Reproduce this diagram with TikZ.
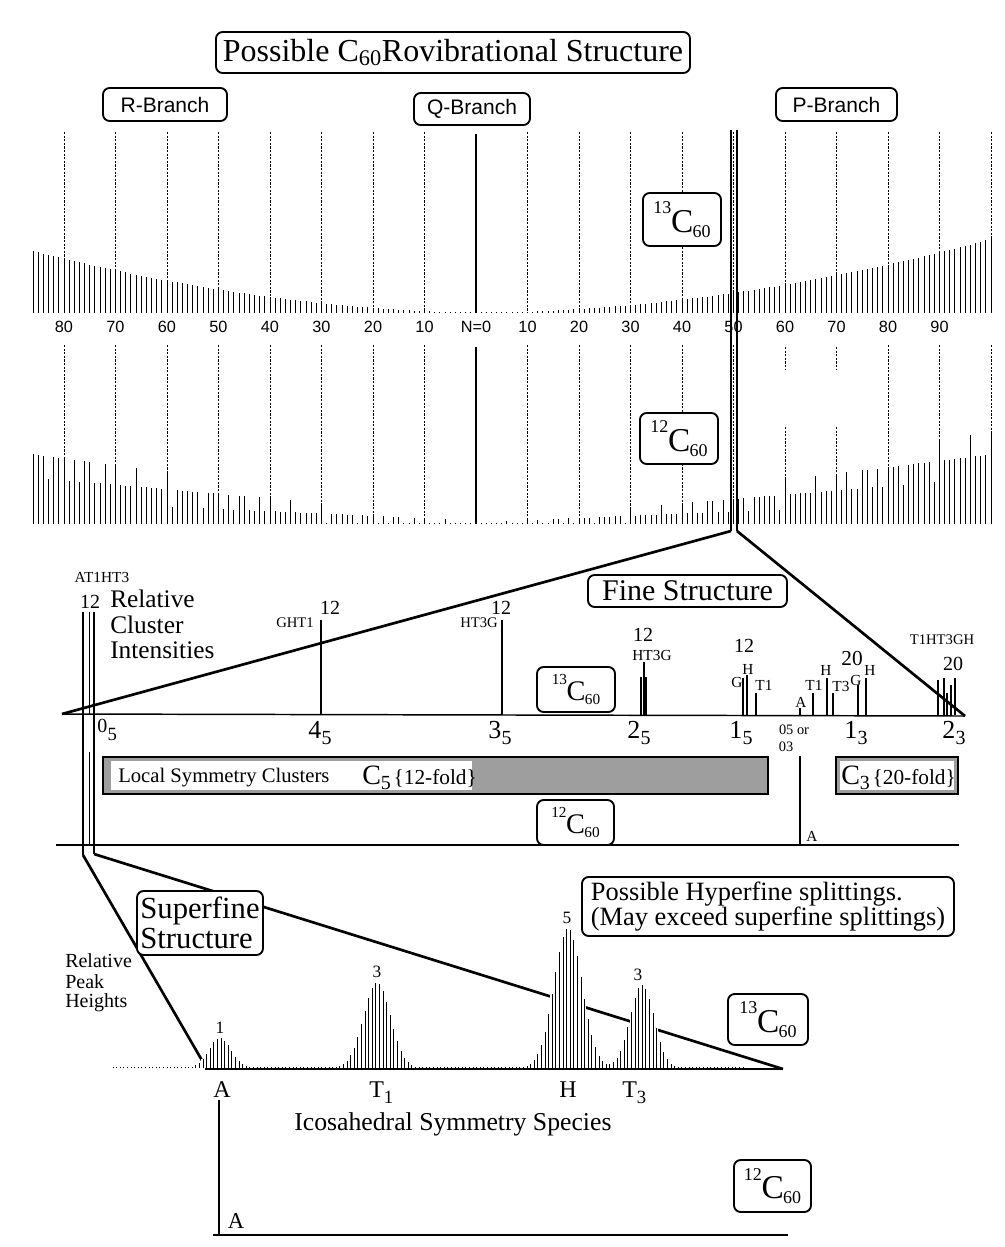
\documentclass[tikz,border=0pt]{standalone}
\usepackage{fontspec}
\setmainfont{Liberation Serif}
\newfontfamily\hsans{Liberation Sans}
\newcommand\fs[1]{\fontsize{#1}{#1}\selectfont}
\newcommand\isolab[1]{{\fs{13.5pt}\raisebox{14pt}{#1}}\kern-0.3pt{\fs{25pt}C}\kern-0.6pt{\fs{13.5pt}\raisebox{-3.5pt}{60}}}
\newcommand\axlab[2]{#1\kern0.3pt\raisebox{-5pt}{\fs{15pt}#2}}
\begin{document}
\begin{tikzpicture}[x=0.75pt,y=-0.75pt,
  rbox/.style={draw,line width=1.4pt,rounded corners=5pt,fill=white,inner sep=0pt},
  dsh/.style={line width=0.55pt,dash pattern=on 1.6pt off 1.1pt},
  spec/.style={line width=0.75pt},
  dbl/.style={line width=1.7pt},
  tri/.style={line width=2pt},
  fl/.style={line width=0.9pt},
  lbl/.style={inner sep=0pt},
  num/.style={inner sep=0pt,font=\hsans\fs{12.2pt}},
  sm/.style={inner sep=0pt,font=\fs{11.5pt}},
]
\fill[white] (0,0) rectangle (1005,1247);
\useasboundingbox (0,0) rectangle (1005,1247);

% ---------------- top: titles
\node[rbox,minimum width=355.5pt,minimum height=30.75pt,font=\fs{24pt}] (title) at (453,52.5) {Possible C\textsubscript{60}Rovibrational Structure};
\node[rbox,minimum width=93pt,minimum height=24.75pt,font=\hsans\fs{15.75pt}] (rb) at (165,104.5) {R-Branch};
\node[rbox,minimum width=87pt,minimum height=24pt,font=\hsans\fs{15.75pt}] (qb) at (472,109) {Q-Branch};
\node[rbox,minimum width=90.75pt,minimum height=24.75pt,font=\hsans\fs{15.75pt}] (pb) at (836.5,104.5) {P-Branch};

% ---------------- 13C60 rovibrational spectrum
\foreach \k in {1,...,8} \draw[dsh] (476-51.5*\k,132) -- (476-51.5*\k,313);
\foreach \k in {1,...,10} \draw[dsh] (476+51.5*\k,132) -- (476+51.5*\k,313);
\draw[line width=0.9pt] (476,134) -- (476,313);
\foreach \n in {1,...,86}{
  \pgfmathsetmacro\h{max(1,0.007*\n*\n+0.12*\n)}
  \draw[spec] (476-5.15*\n,313) -- ++(0,-\h);
}
\foreach \n in {1,...,100}{
  \pgfmathsetmacro\h{max(1,0.0068*\n*\n+0.06*\n)}
  \draw[spec] (476+5.15*\n,313) -- ++(0,-\h);
}
\node[rbox,minimum width=58.5pt,minimum height=39.75pt] (c13a) at (682,219.5) {\isolab{13}};

% axis numbers
\foreach \k in {1,...,8}{
  \pgfmathtruncatemacro\v{10*\k}
  \node[num] (rl\k) at (476-51.5*\k,327) {\v};
}
\node[num] (n0) at (476,327) {N=0};
\foreach \k in {1,...,9}{
  \pgfmathtruncatemacro\v{10*\k}
  \node[num] (pl\k) at (476+51.5*\k,327) {\v};
}

% ---------------- 12C60 rovibrational spectrum
\foreach \k in {1,...,8} \draw[dsh] (476-51.5*\k,345) -- (476-51.5*\k,524);
\foreach \k in {1,2,3,4,5,8,9,10} \draw[dsh] (476+51.5*\k,345) -- (476+51.5*\k,524);
\foreach \k in {6,7}{
  \draw[dsh] (476+51.5*\k,347) -- (476+51.5*\k,369);
  \draw[dsh] (476+51.5*\k,427) -- (476+51.5*\k,524);
}
\draw[line width=0.9pt] (476,347) -- (476,524);
\foreach \n in {1,...,100}{
  \pgfmathsetmacro\aa{mod((\n+0.5)*120,360)}
  \pgfmathsetmacro\ab{mod((\n+0.5)*72,360)}
  \pgfmathsetmacro\ac{mod((\n+0.5)*144,360)}
  \pgfmathsetmacro\sg{ifthenelse(mod(\n,2)==0,1,-1)}
  \pgfmathsetmacro\na{round((2*\n+1+15*\sg+20*sin(\aa)/sin(60)+12*sin(\ab)/sin(36)+12*sin(\ac)/sin(72))/60)}
  \pgfmathsetmacro\fac{\na*(60/(2*\n+1))}
  \pgfmathsetmacro\hp{max(1,1.05*(0.0068*\n*\n+0.06*\n)*\fac)}
  \draw[spec] (476+5.15*\n,524) -- ++(0,-\hp);
  \ifnum\n<87
    \pgfmathsetmacro\hr{max(1,1.08*(0.007*\n*\n+0.12*\n)*\fac)}
    \draw[spec] (476-5.15*\n,524) -- ++(0,-\hr);
  \fi
}
\node[rbox,minimum width=58.5pt,minimum height=38.25pt] (c12a) at (679,438.5) {\isolab{12}};

% ---------------- zoom lines into fine structure
\coordinate (tL) at (731,130);
\coordinate (tR) at (737,130);
\coordinate (apL) at (731,531);
\coordinate (apR) at (737,531);
\coordinate (fL) at (62,714);
\coordinate (fR) at (965,716);
\draw[dbl] (tL) -- (apL);
\draw[dbl] (tR) -- (apR);
\draw[tri] (apL) -- (fL);
\draw[tri] (apR) -- (fR);

% ---------------- fine structure
\draw[line width=1.1pt] (fL) -- (fR);
\foreach \x/\t in {321/620,502/620,641/677,644/662,646/677,743/678,747/675,756/693,800/708,813/693,827/678,833/693,858/685,866/678,938/680,944/678,947/693,951/685,955/678}
  \draw[fl] (\x,715) -- (\x,\t);
\node[rbox,minimum width=149.25pt,minimum height=24pt,font=\fs{22.5pt}] (fine) at (687.5,591) {Fine Structure};
\node[rbox,minimum width=58.5pt,minimum height=33.75pt] (c13b) at (576,689.5) {\scalebox{0.85}{\isolab{13}}};

\node[lbl,font=\fs{11.5pt}] (at1) at (102,577) {AT1HT3};
\node[lbl,font=\fs{15pt}] (n12a) at (90,602) {12};
\node[lbl,font=\fs{19pt},anchor=base west] (rel1) at (110,607) {Relative};
\node[lbl,font=\fs{19pt},anchor=base west] (rel2) at (110,633) {Cluster};
\node[lbl,font=\fs{19pt},anchor=base west] (rel3) at (110,658) {Intensities};

\node[lbl,font=\fs{15pt}] (n12b) at (330,608) {12};
\node[lbl,font=\fs{11pt}] (ght) at (295,623) {GHT1};
\node[lbl,font=\fs{15pt}] (n12c) at (501,608) {12};
\node[lbl,font=\fs{11pt}] (ht3a) at (479,623) {HT3G};
\node[lbl,font=\fs{15pt}] (n12d) at (643,635) {12};
\node[lbl,font=\fs{11.5pt}] (ht3b) at (652,655) {HT3G};
\node[lbl,font=\fs{15pt}] (n12e) at (744,646) {12};
\node[sm] (g1) at (737,682) {G};
\node[sm] (h1) at (748,669) {H};
\node[sm] (t1a) at (764,685) {T1};
\node[sm] (a1) at (801,702) {A};
\node[sm] (t1b) at (814,685) {T1};
\node[sm] (h2) at (826,670) {H};
\node[sm] (t3a) at (841,686) {T3};
\node[lbl,font=\fs{16pt}] (n20a) at (852,658) {20};
\node[sm] (g2) at (856,680) {G};
\node[sm] (h3) at (870,670) {H};
\node[lbl,font=\fs{11pt}] (t1h) at (942,640) {T1HT3GH};
\node[lbl,font=\fs{15pt}] (n20b) at (953,664) {20};

\node[lbl,font=\fs{15pt},anchor=base west] (x05) at (97,732) {0\kern0.3pt\raisebox{-6pt}{\fs{14pt}5}};
\node[lbl,font=\fs{19.5pt},anchor=base west] (x45) at (308,738) {\axlab{4}{5}};
\node[lbl,font=\fs{19.5pt},anchor=base west] (x35) at (488,738) {\axlab{3}{5}};
\node[lbl,font=\fs{19.5pt},anchor=base west] (x25) at (627,738) {\axlab{2}{5}};
\node[lbl,font=\fs{19.5pt},anchor=base west] (x15) at (729,738) {\axlab{1}{5}};
\node[lbl,font=\fs{19.5pt},anchor=base west] (x13) at (844,738) {\axlab{1}{3}};
\node[lbl,font=\fs{19.5pt},anchor=base west] (x23) at (942,738) {\axlab{2}{3}};
\node[lbl,font=\fs{10.8pt}] (or1) at (794,730) {05 or};
\node[lbl,font=\fs{10.8pt}] (or2) at (786,747) {03};

% ---------------- local symmetry clusters / 12C60 middle
\draw[line width=0.8pt,fill=black!38] (103,757) rectangle (768,794);
\fill[white] (111,761) rectangle (472,790);
\node[lbl,font=\fs{15.5pt},anchor=base west] (lsc) at (118,782) {Local Symmetry Clusters};
\node[lbl,anchor=base west] (c5) at (362,784) {{\fs{21pt}C}\raisebox{-4pt}{\fs{15pt}5}\kern2pt{\fs{16pt}\{12-fold\}}};
\draw[line width=0.8pt,fill=black!38] (836,757) rectangle (958,794);
\fill[white] (840,761) rectangle (954,790);
\node[lbl,anchor=base west] (c3) at (841,784) {{\fs{21pt}C}\raisebox{-4pt}{\fs{15pt}3}\kern2pt{\fs{16pt}\{20-fold\}}};
\node[rbox,minimum width=57.75pt,minimum height=33.75pt] (c12b) at (575.5,822.5) {\scalebox{0.85}{\isolab{12}}};
\draw[fl] (800,756) -- (800,845);
\node[sm] (a2) at (812,836) {A};
\draw[line width=1.1pt] (56,845) -- (959,845);

% ---------------- zoom lines into superfine structure
\coordinate (v1t) at (83,612);
\coordinate (v1b) at (83,855);
\coordinate (v2t) at (94,612);
\coordinate (v2b) at (94,854);
\coordinate (sL) at (207,1069);
\coordinate (sR) at (783,1069);
\draw[fl] (v1t) -- (v1b);
\draw[fl] (v2t) -- (v2b);
\draw[line width=0.6pt] (89,612) -- (89,715);
\draw[line width=0.6pt] (89,752) -- (89,845);
\draw[tri] (v1b) -- (sL);
\draw[tri] (v2b) -- (sR);

% ---------------- superfine peaks
\foreach \i in {0,...,175}{
  \pgfmathsetmacro\xx{113+3.6*\i}
  \pgfmathsetmacro\h{30*exp(-min(((\xx-220)/11)^2/2,30))+85*exp(-min(((\xx-377)/13.5)^2/2,30))+140*exp(-min(((\xx-568)/14)^2/2,30))+83*exp(-min(((\xx-642)/12)^2/2,30))}
  \ifdim\h pt>2pt \fill[white] (\xx-1.8,1068) rectangle (\xx+1.8,1068-\h); \fi
}
\foreach \i in {0,...,175}{
  \pgfmathsetmacro\xx{113+3.6*\i}
  \pgfmathsetmacro\h{max(1,30*exp(-min(((\xx-220)/11)^2/2,30))+85*exp(-min(((\xx-377)/13.5)^2/2,30))+140*exp(-min(((\xx-568)/14)^2/2,30))+83*exp(-min(((\xx-642)/12)^2/2,30)))}
  \draw[line width=0.7pt] (\xx,1068) -- ++(0,-\h);
}
\draw[line width=1pt] (205,1069) -- (sR);

\node[rbox,minimum width=94.5pt,minimum height=48pt,align=left,font=\fontsize{23pt}{22.5pt}\selectfont] (sup) at (200,923) {Superfine\\Structure};
\node[rbox,minimum width=279pt,minimum height=44.25pt,align=left,font=\fontsize{19.8pt}{18.75pt}\selectfont] (hyp) at (768,906.5) {Possible Hyperfine splittings.\\(May exceed superfine splittings)};
\node[rbox,minimum width=60pt,minimum height=38.25pt] (c13c) at (768,1019.5) {\isolab{13}};

\node[lbl,font=\fs{15pt},anchor=base west] (rp1) at (65,967) {Relative};
\node[lbl,font=\fs{15pt},anchor=base west] (rp2) at (65,988) {Peak};
\node[lbl,font=\fs{15pt},anchor=base west] (rp3) at (65,1007) {Heights};

\node[lbl,font=\fs{13pt}] (p1) at (220,1028) {1};
\node[lbl,font=\fs{13pt}] (p3a) at (377,972) {3};
\node[lbl,font=\fs{13pt}] (p5) at (567,918) {5};
\node[lbl,font=\fs{13pt}] (p3b) at (638,975) {3};

\node[lbl,font=\fs{18pt},anchor=base] (sA) at (222,1097) {A};
\node[lbl,font=\fs{18pt},anchor=base west] (sT1) at (369,1097) {T\raisebox{-5pt}{\fs{14pt}1}};
\node[lbl,font=\fs{18pt},anchor=base] (sH) at (568,1097) {H};
\node[lbl,font=\fs{18pt},anchor=base west] (sT3) at (622,1097) {T\raisebox{-5pt}{\fs{14pt}3}};
\node[lbl,font=\fs{19.3pt},anchor=base west] (ico) at (294,1130) {Icosahedral Symmetry Species};

% ---------------- bottom 12C60
\draw[fl] (219,1100) -- (219,1235);
\node[lbl,font=\fs{17pt}] (a3) at (236,1221) {A};
\draw[line width=1.1pt] (213,1235) -- (788,1235);
\node[rbox,minimum width=57.75pt,minimum height=39pt] (c12c) at (772.5,1186) {\isolab{12}};
\end{tikzpicture}
\end{document}
